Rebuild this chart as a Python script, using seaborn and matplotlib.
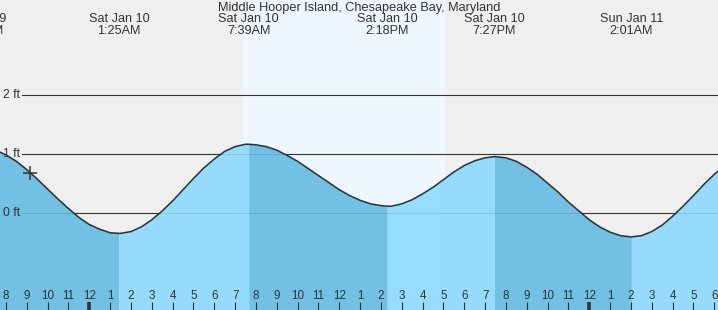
import numpy as np
import matplotlib
matplotlib.use("Agg")
import matplotlib.pyplot as plt
import matplotlib.transforms as mtransforms
import seaborn as sns

# ---------------- data (hours from midnight Sat Jan 10, feet) ----------------
times = [-4.5, -4.0, -3.5, -3.0, -2.5, -2.0, -1.5, -1.0, -0.5, 0.0, 0.5, 1.0, 1.417,
         1.5, 2.0, 2.5, 3.0, 3.5, 4.0, 4.5, 5.0, 5.5, 6.0, 6.5, 7.0, 7.5, 7.65,
         8.0, 8.5, 9.0, 9.5, 10.0, 10.5, 11.0, 11.5, 12.0, 12.5, 13.0, 13.5, 14.0, 14.3,
         14.5, 15.0, 15.5, 16.0, 16.5, 17.0, 17.5, 18.0, 18.5, 19.0, 19.45,
         19.5, 20.0, 20.5, 21.0, 21.5, 22.0, 22.5, 23.0, 23.5, 24.0, 24.5, 25.0, 25.5, 26.017,
         26.5, 27.0, 27.5, 28.0, 28.5, 29.0, 29.5, 30.0, 30.5]
heights = [1.07, 0.99, 0.88, 0.74, 0.58, 0.41, 0.24, 0.08, -0.07, -0.19, -0.27, -0.33, -0.34,
           -0.34, -0.31, -0.23, -0.11, 0.04, 0.21, 0.40, 0.59, 0.77, 0.92, 1.05, 1.13, 1.17, 1.17,
           1.16, 1.13, 1.07, 0.98, 0.88, 0.76, 0.64, 0.52, 0.40, 0.30, 0.22, 0.16, 0.13, 0.12,
           0.12, 0.16, 0.23, 0.33, 0.44, 0.57, 0.70, 0.81, 0.89, 0.94, 0.96,
           0.96, 0.94, 0.88, 0.78, 0.66, 0.51, 0.36, 0.19, 0.04, -0.11, -0.23, -0.32, -0.38, -0.40,
           -0.38, -0.31, -0.20, -0.05, 0.12, 0.30, 0.49, 0.66, 0.81]

extreme_times = [-5.15, 1.417, 7.65, 14.3, 19.45, 26.017]
extreme_dates = ["Fri Jan 9", "Sat Jan 10", "Sat Jan 10", "Sat Jan 10", "Sat Jan 10", "Sun Jan 11"]
extreme_clock = ["6:51PM", "1:25AM", "7:39AM", "2:18PM", "7:27PM", "2:01AM"]

sunrise, sunset = 7.39, 17.07
now_time, now_height = -2.85, 0.68

hour_ticks = list(range(-4, 31))
hour_labels = ["8", "9", "10", "11", "12", "1", "2", "3", "4", "5", "6", "7",
               "8", "9", "10", "11", "12", "1", "2", "3", "4", "5", "6", "7",
               "8", "9", "10", "11", "12", "1", "2", "3", "4", "5", "6"]
midnight_ticks = [0, 24]

grid_levels = [0, 1, 2]
grid_labels = ["0 ft", "1 ft", "2 ft"]

title = "Middle Hooper Island, Chesapeake Bay, Maryland"

# ---------------- styling ----------------
BG = "#EFEFEF"
DAY = "#EEF7FF"
FALL = "#65BBE3"
RISE = "#8CD9FD"
INK = "#333333"
FONT = ["Liberation Sans", "DejaVu Sans"]

W, H = 718, 310
fig = plt.figure(figsize=(W / 100, H / 100), dpi=100, facecolor=BG)
ax = fig.add_axes([0, 0, 1, 1])
ax.set_facecolor(BG)
ax.set_axisbelow(False)
for s in ax.spines.values():
    s.set_visible(False)

ax.set_xlim(-4.287, 30.178)
ax.set_ylim(-1.639, 3.615)

# daylight band
ax.axvspan(sunrise, sunset, color=DAY, zorder=0, lw=0)

# gridlines
for lv in grid_levels:
    ax.axhline(lv, xmin=22 / W, xmax=1, color=INK, lw=0.8, zorder=1)

# fills by segment between extremes
t_arr = np.array(times)
h_arr = np.array(heights)
edges = [t_arr.min()] + [t for t in extreme_times if t_arr.min() < t < t_arr.max()] + [t_arr.max()]
ybot = ax.get_ylim()[0]
for a, b in zip(edges[:-1], edges[1:]):
    m = (t_arr >= a) & (t_arr <= b)
    seg_t, seg_h = t_arr[m], h_arr[m]
    col = FALL if seg_h[-1] < seg_h[0] else RISE
    ax.fill_between(seg_t, seg_h, ybot, color=col, alpha=0.9, lw=0, zorder=2)

# tide curve
sns.lineplot(x=times, y=heights, ax=ax, color=INK, lw=1.15, zorder=4,
             sort=False, estimator=None)

# current time marker
ax.plot([now_time], [now_height], marker="+", ms=10, mew=1.1, color=INK, zorder=5, ls="none")

# y labels
ytr = mtransforms.blended_transform_factory(ax.transAxes, ax.transData)
for lv, lab in zip(grid_levels, grid_labels):
    ax.text(20 / W, lv, lab, transform=ytr, ha="right", va="center",
            fontsize=8.8, color=INK, family=FONT, zorder=6)

# x ticks (inside, labels above ticks)
ax.set_xticks(hour_ticks)
ax.set_xticklabels(hour_labels, family=FONT)
ax.set_yticks([])
ax.tick_params(axis="x", direction="in", length=5.5, width=0.8, color=INK,
               labelcolor=INK, labelsize=8.4, pad=-14.5)
for tk, pos in zip(ax.xaxis.get_major_ticks(), hour_ticks):
    if pos in midnight_ticks:
        tk.tick1line.set_markeredgewidth(2.6)

# extreme labels at top
xtr = mtransforms.blended_transform_factory(ax.transData, ax.transAxes)
for t, d, c in zip(extreme_times, extreme_dates, extreme_clock):
    ax.text(t, 1 - 19.5 / H, d, transform=xtr, ha="center", va="center",
            fontsize=9.1, color=INK, family=FONT, zorder=6)
    ax.text(t, 1 - 31.5 / H, c, transform=xtr, ha="center", va="center",
            fontsize=9.1, color=INK, family=FONT, zorder=6)

ax.text(0.5, 1 - 7.5 / H, title, transform=ax.transAxes, ha="center", va="center",
        fontsize=9.2, color=INK, family=FONT, zorder=6)

ax.set_xlabel("")
ax.set_ylabel("")
fig.savefig("out.png", dpi=100, facecolor=BG)
